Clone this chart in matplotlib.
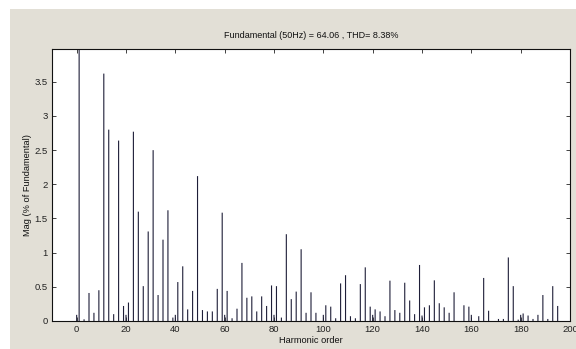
import matplotlib
matplotlib.use("Agg")
import matplotlib.pyplot as plt
from matplotlib.patches import Rectangle

# Harmonic orders and magnitudes (% of fundamental)
orders = [0, 1, 3, 5, 7, 9, 11, 13, 15, 17, 19, 20, 21, 23, 25, 27, 29, 31, 33, 35,
          37, 39, 40, 41, 43, 45, 47, 49, 51, 53, 55, 57, 59, 60, 61, 63, 65, 67, 69, 71,
          73, 75, 77, 79, 80, 81, 83, 85, 87, 89, 91, 93, 95, 97, 100, 101, 103, 105, 107, 109,
          111, 113, 115, 117, 119, 120, 121, 123, 125, 127, 129, 131, 133, 135, 137, 139, 140, 141, 143, 145,
          147, 149, 151, 153, 157, 159, 160, 163, 165, 167, 171, 173, 175, 177, 179, 180, 181, 183, 185, 187,
          189, 191, 193, 195]
mags = [0.09, 100.0, 0.025, 0.41, 0.12, 0.45, 3.62, 2.80, 0.10, 2.64, 0.22, 0.09, 0.27, 2.77, 1.60, 0.51, 1.31, 2.50, 0.38, 1.19,
        1.62, 0.05, 0.09, 0.57, 0.80, 0.17, 0.44, 2.12, 0.16, 0.14, 0.14, 0.47, 1.585, 0.09, 0.44, 0.04, 0.18, 0.85, 0.34, 0.36,
        0.14, 0.36, 0.22, 0.52, 0.09, 0.51, 0.05, 1.27, 0.32, 0.43, 1.05, 0.12, 0.42, 0.12, 0.09, 0.23, 0.21, 0.04, 0.55, 0.67,
        0.07, 0.04, 0.54, 0.785, 0.21, 0.09, 0.17, 0.14, 0.07, 0.59, 0.16, 0.12, 0.56, 0.30, 0.10, 0.82, 0.08, 0.20, 0.23, 0.595,
        0.26, 0.20, 0.12, 0.42, 0.23, 0.21, 0.09, 0.07, 0.63, 0.15, 0.03, 0.03, 0.93, 0.51, 0.02, 0.09, 0.11, 0.08, 0.03, 0.09,
        0.38, 0.03, 0.51, 0.22]

x_ticks = [0, 20, 40, 60, 80, 100, 120, 140, 160, 180, 200]
y_ticks = [0, 0.5, 1, 1.5, 2, 2.5, 3, 3.5]
y_ticklabels = ["0", "0.5", "1", "1.5", "2", "2.5", "3", "3.5"]

title = "Fundamental (50Hz) = 64.06 , THD= 8.38%"
xlabel = "Harmonic order"
ylabel = "Mag (% of Fundamental)"

plt.rcParams['font.family'] = ['Liberation Sans', 'DejaVu Sans']

W, H = 576, 349
fig = plt.figure(figsize=(W / 100, H / 100), dpi=100, facecolor='white')
# grey window background (screenshot look)
fig.patches.append(Rectangle((10 / W, 0), 1 - 10 / W, 1 - 9 / H, transform=fig.transFigure,
                             facecolor='#E2DFD6', edgecolor='none', zorder=-10))

ax = fig.add_axes([52 / W, 1 - 321 / H, (570 - 52) / W, (321 - 49) / H])
ax.set_facecolor('white')
ax.vlines(orders, 0, mags, colors='#1e1e38', linewidth=0.8, snap=False)

ax.set_xlim(-10, 200)
ax.set_ylim(0, 3.98)
ax.set_xticks(x_ticks)
ax.set_yticks(y_ticks)
ax.set_yticklabels(y_ticklabels)
ax.tick_params(direction='in', length=3, width=0.6, top=True, right=True,
               labelsize=6.8, colors='#222222', pad=3)
for s in ax.spines.values():
    s.set_linewidth(0.8)
    s.set_color('#111111')

ax.set_title(title, fontsize=6.5, pad=8, color='#111111')
ax.set_xlabel(xlabel, fontsize=6.7, labelpad=1.5, color='#111111')
ax.set_ylabel(ylabel, fontsize=6.7, labelpad=2, color='#111111')

fig.savefig("out.png", dpi=100, facecolor=fig.get_facecolor())
